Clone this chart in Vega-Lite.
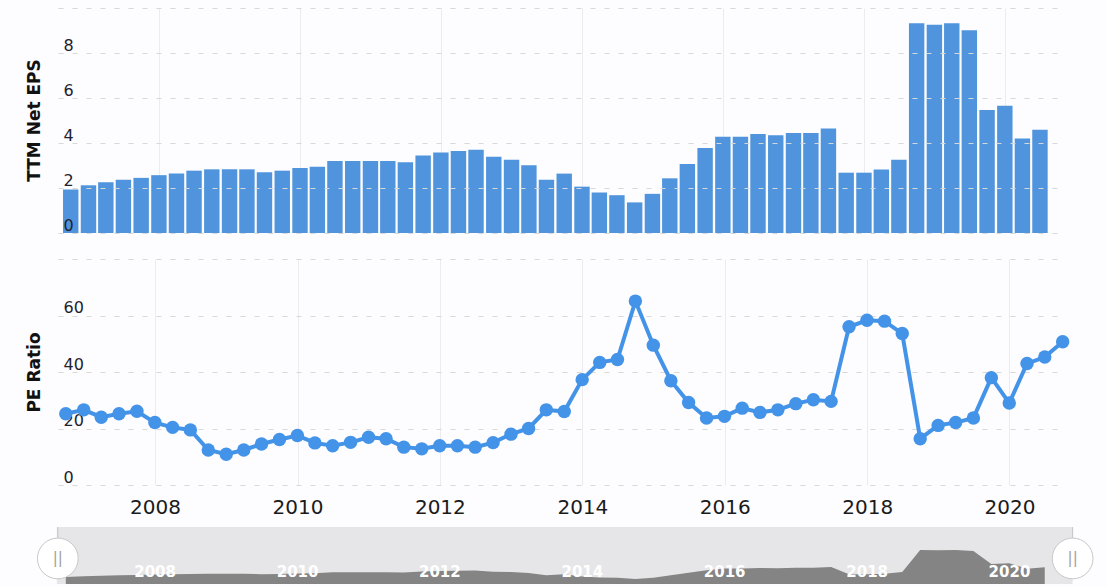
{
  "$schema": "https://vega.github.io/schema/vega-lite/v6.json",
  "autosize": {"type": "pad"},
  "padding": {"left": 25, "top": 8, "right": 12, "bottom": 2},
  "background": "#fdfcfe",
  "bounds": "flush",
  "spacing": 26,
  "config": {"view": {"stroke": null}},
  "datasets": {
    "eps": [
      {"date": "2006-09-30", "eps": 1.93}, {"date": "2006-12-31", "eps": 2.12}, {"date": "2007-03-31", "eps": 2.26}, {"date": "2007-06-30", "eps": 2.37},
      {"date": "2007-09-30", "eps": 2.45}, {"date": "2007-12-31", "eps": 2.57}, {"date": "2008-03-31", "eps": 2.64}, {"date": "2008-06-30", "eps": 2.77},
      {"date": "2008-09-30", "eps": 2.83}, {"date": "2008-12-31", "eps": 2.83}, {"date": "2009-03-31", "eps": 2.83}, {"date": "2009-06-30", "eps": 2.7},
      {"date": "2009-09-30", "eps": 2.77}, {"date": "2009-12-31", "eps": 2.89}, {"date": "2010-03-31", "eps": 2.95}, {"date": "2010-06-30", "eps": 3.2},
      {"date": "2010-09-30", "eps": 3.2}, {"date": "2010-12-31", "eps": 3.2}, {"date": "2011-03-31", "eps": 3.2}, {"date": "2011-06-30", "eps": 3.14},
      {"date": "2011-09-30", "eps": 3.45}, {"date": "2011-12-31", "eps": 3.58}, {"date": "2012-03-31", "eps": 3.64}, {"date": "2012-06-30", "eps": 3.7},
      {"date": "2012-09-30", "eps": 3.39}, {"date": "2012-12-31", "eps": 3.26}, {"date": "2013-03-31", "eps": 3.01}, {"date": "2013-06-30", "eps": 2.37},
      {"date": "2013-09-30", "eps": 2.64}, {"date": "2013-12-31", "eps": 2.06}, {"date": "2014-03-31", "eps": 1.8}, {"date": "2014-06-30", "eps": 1.68},
      {"date": "2014-09-30", "eps": 1.36}, {"date": "2014-12-31", "eps": 1.74}, {"date": "2015-03-31", "eps": 2.43}, {"date": "2015-06-30", "eps": 3.07},
      {"date": "2015-09-30", "eps": 3.78}, {"date": "2015-12-31", "eps": 4.28}, {"date": "2016-03-31", "eps": 4.28}, {"date": "2016-06-30", "eps": 4.4},
      {"date": "2016-09-30", "eps": 4.34}, {"date": "2016-12-31", "eps": 4.45}, {"date": "2017-03-31", "eps": 4.45}, {"date": "2017-06-30", "eps": 4.65},
      {"date": "2017-09-30", "eps": 2.68}, {"date": "2017-12-31", "eps": 2.68}, {"date": "2018-03-31", "eps": 2.82}, {"date": "2018-06-30", "eps": 3.26},
      {"date": "2018-09-30", "eps": 9.32}, {"date": "2018-12-31", "eps": 9.26}, {"date": "2019-03-31", "eps": 9.32}, {"date": "2019-06-30", "eps": 9.01},
      {"date": "2019-09-30", "eps": 5.47}, {"date": "2019-12-31", "eps": 5.66}, {"date": "2020-03-31", "eps": 4.2}, {"date": "2020-06-30", "eps": 4.59}
    ],
    "pe": [
      {"date": "2006-09-30", "pe": 25.2}, {"date": "2006-12-31", "pe": 26.6}, {"date": "2007-03-31", "pe": 24.0}, {"date": "2007-06-30", "pe": 25.2},
      {"date": "2007-09-30", "pe": 26.1}, {"date": "2007-12-31", "pe": 22.1}, {"date": "2008-03-31", "pe": 20.4}, {"date": "2008-06-30", "pe": 19.5},
      {"date": "2008-09-30", "pe": 12.4}, {"date": "2008-12-31", "pe": 10.9}, {"date": "2009-03-31", "pe": 12.4}, {"date": "2009-06-30", "pe": 14.5},
      {"date": "2009-09-30", "pe": 16.1}, {"date": "2009-12-31", "pe": 17.5}, {"date": "2010-03-31", "pe": 14.9}, {"date": "2010-06-30", "pe": 13.9},
      {"date": "2010-09-30", "pe": 15.1}, {"date": "2010-12-31", "pe": 16.9}, {"date": "2011-03-31", "pe": 16.4}, {"date": "2011-06-30", "pe": 13.4},
      {"date": "2011-09-30", "pe": 12.8}, {"date": "2011-12-31", "pe": 13.9}, {"date": "2012-03-31", "pe": 13.9}, {"date": "2012-06-30", "pe": 13.4},
      {"date": "2012-09-30", "pe": 15.0}, {"date": "2012-12-31", "pe": 18.0}, {"date": "2013-03-31", "pe": 20.0}, {"date": "2013-06-30", "pe": 26.6},
      {"date": "2013-09-30", "pe": 26.0}, {"date": "2013-12-31", "pe": 37.3}, {"date": "2014-03-31", "pe": 43.4}, {"date": "2014-06-30", "pe": 44.4},
      {"date": "2014-09-30", "pe": 65.1}, {"date": "2014-12-31", "pe": 49.5}, {"date": "2015-03-31", "pe": 36.9}, {"date": "2015-06-30", "pe": 29.2},
      {"date": "2015-09-30", "pe": 23.7}, {"date": "2015-12-31", "pe": 24.3}, {"date": "2016-03-31", "pe": 27.2}, {"date": "2016-06-30", "pe": 25.7},
      {"date": "2016-09-30", "pe": 26.6}, {"date": "2016-12-31", "pe": 28.8}, {"date": "2017-03-31", "pe": 30.2}, {"date": "2017-06-30", "pe": 29.6},
      {"date": "2017-09-30", "pe": 56.0}, {"date": "2017-12-31", "pe": 58.3}, {"date": "2018-03-31", "pe": 58.0}, {"date": "2018-06-30", "pe": 53.6},
      {"date": "2018-09-30", "pe": 16.4}, {"date": "2018-12-31", "pe": 21.1}, {"date": "2019-03-31", "pe": 22.1}, {"date": "2019-06-30", "pe": 23.7},
      {"date": "2019-09-30", "pe": 38.0}, {"date": "2019-12-31", "pe": 29.0}, {"date": "2020-03-31", "pe": 43.0}, {"date": "2020-06-30", "pe": 45.3},
      {"date": "2020-09-30", "pe": 50.7}
    ],
    "navBack": [{"start": "2006-08-15", "end": "2020-11-20", "low": 0, "high": 15.6}],
    "navYears": [
      {"date": "2008-01-01", "label": "2008", "level": 3.2}, {"date": "2010-01-01", "label": "2010", "level": 3.2},
      {"date": "2012-01-01", "label": "2012", "level": 3.2}, {"date": "2014-01-01", "label": "2014", "level": 3.2},
      {"date": "2016-01-01", "label": "2016", "level": 3.2}, {"date": "2018-01-01", "label": "2018", "level": 3.2},
      {"date": "2020-01-01", "label": "2020", "level": 3.2}
    ],
    "navHandles": [
      {"date": "2006-08-20", "level": 7, "low": 7, "high": 15.6, "grip": "||"},
      {"date": "2020-11-20", "level": 7, "low": 7, "high": 15.6, "grip": "||"}
    ]
  },
  "vconcat": [
    {
      "width": 1008,
      "height": 225,
      "data": {"name": "eps"},
      "mark": {"type": "bar", "width": 15.4, "color": "#4f94dc", "clip": false},
      "encoding": {
        "x": {
          "field": "date",
          "type": "temporal",
          "scale": {"domain": ["2006-08-21", "2020-10-17"]},
          "axis": {
            "title": null,
            "labels": false,
            "ticks": false,
            "domain": false,
            "grid": true,
            "gridColor": "#ececf0",
            "tickCount": {"interval": "year", "step": 2}
          }
        },
        "y": {
          "field": "eps",
          "type": "quantitative",
          "scale": {"domain": [0, 10]},
          "axis": {
            "title": "TTM Net EPS",
            "titleFont": "DejaVu Sans",
            "titleFontSize": 17,
            "titleFontWeight": "bold",
            "titleColor": "#111111",
            "titleX": -15,
            "titleY": 112,
            "values": [0, 2, 4, 6, 8, 10],
            "labelExpr": "datum.value < 10 ? datum.label : ''",
            "labelFont": "DejaVu Sans",
            "labelFontSize": 16,
            "labelColor": "#22222e",
            "labelAlign": "left",
            "labelBaseline": "bottom",
            "labelPadding": -5,
            "tickSize": 0,
            "ticks": false,
            "domain": false,
            "grid": true,
            "gridColor": "#d8d8d8",
            "gridDash": [5, 9],
            "zindex": 1
          }
        }
      }
    },
    {
      "width": 1008,
      "height": 226,
      "data": {"name": "pe"},
      "encoding": {
        "x": {
          "field": "date",
          "type": "temporal",
          "scale": {"domain": ["2006-08-21", "2020-10-17"]},
          "axis": {
            "title": null,
            "format": "%Y",
            "labelFont": "DejaVu Sans",
            "labelFontSize": 20,
            "labelColor": "#1a1a1a",
            "labelPadding": 12,
            "tickSize": 0,
            "ticks": false,
            "domain": false,
            "grid": true,
            "gridColor": "#ececf0",
            "labelFlush": false,
            "tickCount": {"interval": "year", "step": 2}
          }
        },
        "y": {
          "field": "pe",
          "type": "quantitative",
          "scale": {"domain": [0, 80]},
          "axis": {
            "title": "PE Ratio",
            "titleFont": "DejaVu Sans",
            "titleFontSize": 17,
            "titleFontWeight": "bold",
            "titleColor": "#111111",
            "titleX": -15,
            "titleY": 113,
            "values": [0, 20, 40, 60, 80],
            "labelExpr": "datum.value < 80 ? datum.label : ''",
            "labelFont": "DejaVu Sans",
            "labelFontSize": 16,
            "labelColor": "#22222e",
            "labelAlign": "left",
            "labelBaseline": "bottom",
            "labelPadding": -5,
            "tickSize": 0,
            "ticks": false,
            "domain": false,
            "grid": true,
            "gridColor": "#d8d8d8",
            "gridDash": [5, 9]
          }
        }
      },
      "layer": [
        {"mark": {"type": "line", "color": "#4393e8", "strokeWidth": 4, "clip": false}},
        {"mark": {"type": "circle", "color": "#4393e8", "opacity": 1, "size": 180, "clip": false}}
      ]
    },
    {
      "width": 1008,
      "height": 73,
      "resolve": {"scale": {"x": "shared", "y": "shared"}},
      "layer": [
        {
          "data": {"name": "navBack"},
          "mark": {"type": "rect", "color": "#e6e6e8", "clip": false},
          "encoding": {
            "x": {"field": "start", "type": "temporal", "scale": {"domain": ["2006-08-21", "2020-10-17"]}, "axis": null},
            "x2": {"field": "end"},
            "y": {"field": "low", "type": "quantitative", "scale": {"domain": [0, 20]}, "axis": null},
            "y2": {"field": "high"}
          }
        },
        {
          "data": {"name": "eps"},
          "mark": {"type": "area", "color": "#848484", "clip": false},
          "encoding": {
            "x": {"field": "date", "type": "temporal"},
            "y": {"field": "eps", "type": "quantitative"}
          }
        },
        {
          "data": {"name": "navYears"},
          "mark": {"type": "text", "color": "#ffffff", "font": "DejaVu Sans", "fontSize": 15, "fontWeight": "bold"},
          "encoding": {
            "x": {"field": "date", "type": "temporal"},
            "y": {"field": "level", "type": "quantitative"},
            "text": {"field": "label"}
          }
        },
        {
          "data": {"name": "navHandles"},
          "mark": {"type": "rule", "color": "#c4c4c4", "strokeWidth": 1, "clip": false},
          "encoding": {
            "x": {"field": "date", "type": "temporal"},
            "y": {"field": "low", "type": "quantitative"},
            "y2": {"field": "high"}
          }
        },
        {
          "data": {"name": "navHandles"},
          "mark": {"type": "circle", "fill": "#ffffff", "stroke": "#c8c8c8", "strokeWidth": 1, "opacity": 1, "size": 1660, "clip": false},
          "encoding": {
            "x": {"field": "date", "type": "temporal"},
            "y": {"field": "level", "type": "quantitative"}
          }
        },
        {
          "data": {"name": "navHandles"},
          "mark": {"type": "text", "color": "#a0a0a0", "font": "DejaVu Sans", "fontSize": 15, "clip": false},
          "encoding": {
            "x": {"field": "date", "type": "temporal"},
            "y": {"field": "level", "type": "quantitative"},
            "text": {"field": "grip"}
          }
        }
      ]
    }
  ]
}
